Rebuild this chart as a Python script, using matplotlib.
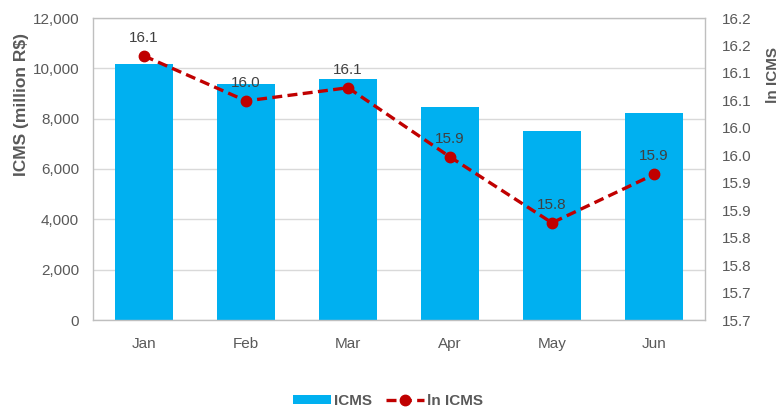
import matplotlib
matplotlib.use("Agg")
import matplotlib.pyplot as plt
from matplotlib.ticker import FuncFormatter, MultipleLocator, FixedLocator
from matplotlib.lines import Line2D
from matplotlib.patches import Patch
from decimal import Decimal, ROUND_HALF_UP
import numpy as np

plt.rcParams['font.family'] = ['Liberation Sans', 'DejaVu Sans']

months = ["Jan", "Feb", "Mar", "Apr", "May", "Jun"]
icms = [10160, 9364, 9587, 8475, 7509, 8212]
ln_icms = [16.131, 16.049, 16.073, 15.947, 15.827, 15.915]
ln_labels = ["16.1", "16.0", "16.1", "15.9", "15.8", "15.9"]
right_ticks = [15.65, 15.70, 15.75, 15.80, 15.85, 15.90, 15.95, 16.00, 16.05, 16.10, 16.15, 16.20]

bar_color = "#00B0F0"
line_color = "#C00000"
text_color = "#595959"
grid_color = "#D9D9D9"
spine_color = "#BFBFBF"

fig = plt.figure(figsize=(7.81, 4.13), dpi=100)
ax = fig.add_axes([93/781, 1-320/413, (705-93)/781, (320-18)/413])
x = np.arange(len(months))

ax.bar(x, icms, width=0.56, color=bar_color, zorder=2)
ax.set_xlim(-0.5, len(months)-0.5)
ax.set_ylim(0, 12000)
ax.yaxis.set_major_locator(MultipleLocator(2000))
ax.yaxis.set_major_formatter(FuncFormatter(lambda v, p: f"{int(v):,}"))
ax.grid(axis='y', color=grid_color, linewidth=1, zorder=0)
ax.set_axisbelow(True)
ax.set_xticks(x)
ax.set_xticklabels(months)
ax.tick_params(axis='both', length=0, labelsize=11, colors=text_color)
ax.tick_params(axis='x', pad=12)
ax.tick_params(axis='y', pad=10)
for s in ax.spines.values():
    s.set_color(spine_color)
    s.set_linewidth(1)
ax.set_ylabel("ICMS (million R$)", fontsize=12.5, fontweight='bold', color=text_color)
ax.yaxis.set_label_coords((29-93)/612, (320-105)/302)

ax2 = ax.twinx()
ax2.plot(x, ln_icms, color=line_color, linestyle=(0, (3, 1.6)), linewidth=2.4,
         marker='o', markersize=7.5, zorder=3)
ax2.set_ylim(15.65, 16.20)
ax2.yaxis.set_major_locator(FixedLocator(right_ticks))
def fmt(v, p):
    return str(Decimal(str(round(v, 2))).quantize(Decimal('0.1'), rounding=ROUND_HALF_UP))
ax2.yaxis.set_major_formatter(FuncFormatter(fmt))
ax2.tick_params(axis='y', length=0, labelsize=11, colors=text_color, pad=12)
for s in ax2.spines.values():
    s.set_visible(False)
ax2.set_ylabel("ln ICMS", fontsize=11, fontweight='bold', color=text_color)
ax2.yaxis.set_label_coords((766-93)/612, (320-75)/302)

for xi, yi, lab in zip(x, ln_icms, ln_labels):
    ax2.annotate(lab, (xi, yi), xytext=(0, 8), textcoords='offset points',
                 ha='center', va='bottom', fontsize=11, color="#404040")

handles = [Patch(facecolor=bar_color, edgecolor='none'),
           Line2D([0], [0], color=line_color, linestyle=(0, (3, 1.6)), linewidth=2.4,
                  marker='o', markersize=7.5)]
leg = fig.legend(handles, ["ICMS", "ln ICMS"], loc='center', bbox_to_anchor=(388/781, 1-401/413),
                 ncol=2, frameon=False, handlelength=2.5, handleheight=0.45,
                 handletextpad=0.2, columnspacing=0.9,
                 prop={'size': 11, 'weight': 'bold'})
for t in leg.get_texts():
    t.set_color(text_color)

fig.savefig("out.png", dpi=100)
